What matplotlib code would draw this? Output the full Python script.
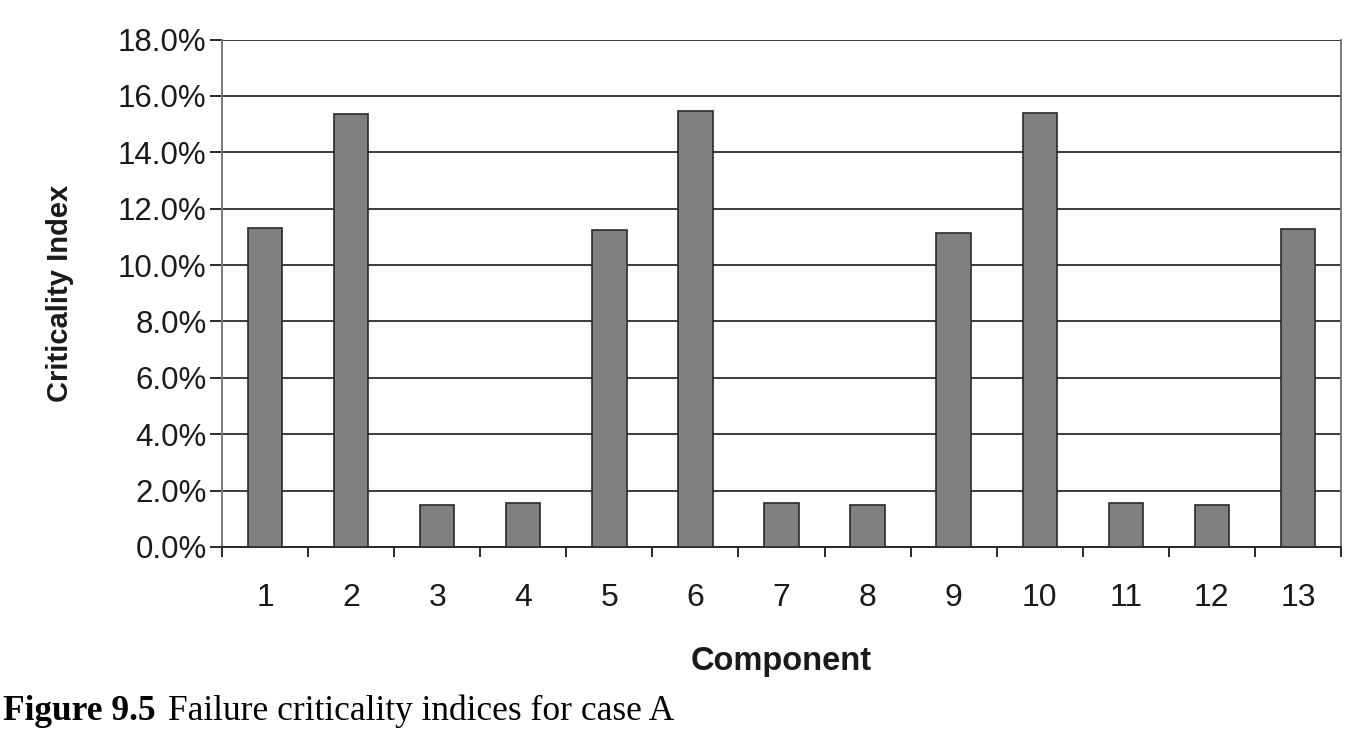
import matplotlib
matplotlib.use("Agg")
import matplotlib.pyplot as plt
from matplotlib.ticker import FuncFormatter, FixedLocator
import numpy as np

components = ["1", "2", "3", "4", "5", "6", "7", "8", "9", "10", "11", "12", "13"]
criticality = [11.30, 15.34, 1.48, 1.55, 11.24, 15.48, 1.55, 1.48, 11.15, 15.40, 1.55, 1.48, 11.28]
y_ticks = [0, 2, 4, 6, 8, 10, 12, 14, 16, 18]

plt.rcParams['font.family'] = ['Liberation Sans', 'DejaVu Sans']

fig = plt.figure(figsize=(13.6, 7.29), dpi=100)
ax = fig.add_axes([222/1360, 1-547/729, (1341-222)/1360, (547-39.5)/729])

x = np.arange(len(components))
ax.bar(x, criticality, width=0.4, color="#808080", edgecolor="#2a2a2a", linewidth=1.2, zorder=3)

ax.set_xlim(-0.5, len(components)-0.5)
ax.set_ylim(0, 18)
ax.yaxis.set_major_locator(FixedLocator(y_ticks))
ax.yaxis.set_major_formatter(FuncFormatter(lambda v, p: f"{v:.1f}%"))
ax.grid(axis='y', color="#3c3c3c", linewidth=1.4, zorder=1)
ax.set_axisbelow(True)

ax.set_xticks(x)
ax.set_xticklabels(components)
ax.set_xticks(np.arange(-0.5, len(components)), minor=True)
ax.tick_params(axis='x', which='major', length=0, pad=26, labelsize=23, labelcolor="#1a1a1a")
ax.tick_params(axis='x', which='minor', length=7, width=1.4, color="#2a2a2a", direction='out')
ax.tick_params(axis='y', which='major', length=9, width=1.4, color="#2a2a2a", pad=2, labelsize=22.5, labelcolor="#1a1a1a")

for s in ['left', 'right']:
    ax.spines[s].set_color("#7a7a7a")
    ax.spines[s].set_linewidth(1.4)
ax.spines['bottom'].set_color("#2a2a2a")
ax.spines['bottom'].set_linewidth(1.4)
ax.spines['top'].set_visible(False)

ax.set_xlabel("Component", fontsize=23.5, fontweight='bold', labelpad=24, color="#1a1a1a")
ax.set_ylabel("Criticality Index", fontsize=21, fontweight='bold', labelpad=32, color="#1a1a1a")

serif = ['Liberation Serif', 'DejaVu Serif']
t1 = fig.text(3/1360, 1-720/729, "Figure 9.5", fontsize=25.5, fontweight='bold',
              family=serif, va='baseline', ha='left')
fig.canvas.draw()
bb = t1.get_window_extent()
fig.text((bb.x1 + 12)/1360, 1-720/729, "Failure criticality indices for case A", fontsize=25.5,
         family=serif, va='baseline', ha='left')

fig.savefig("out.png", dpi=100)
